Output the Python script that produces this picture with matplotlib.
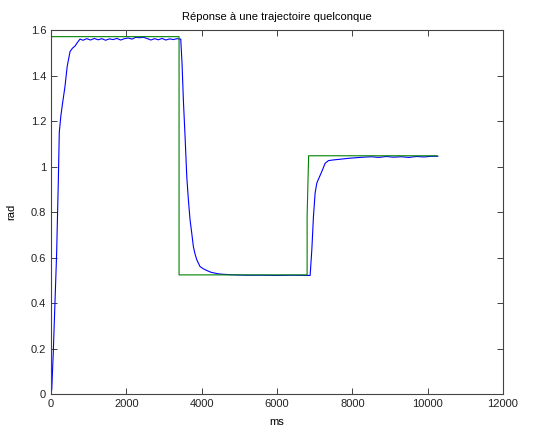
#!/usr/bin/env python3

import matplotlib
matplotlib.use("Agg")
import matplotlib.pyplot as plt

# mesure (bleu)
t_mes = [0, 20, 60, 105, 150, 195, 220, 260, 300, 370, 430, 505, 570, 640, 700, 770,
         850, 950, 1050, 1150, 1250, 1350, 1450, 1550, 1650, 1750, 1850, 1950, 2050,
         2150, 2250, 2350, 2450, 2550, 2650, 2750, 2850, 2950, 3050, 3150, 3250, 3350, 3420,
         3445, 3480, 3515, 3560, 3605, 3648, 3692, 3737, 3780, 3825, 3870, 3958, 4050,
         4135, 4250, 4445, 4600, 4800, 5000, 5200, 5600, 6000, 6400, 6880,
         6925, 6968, 7012, 7057, 7100, 7190, 7278, 7367, 7500, 7677, 7900, 8120, 8300,
         8500, 8700, 8900, 9100, 9300, 9500, 9700, 9900, 10100, 10270]
y_mes = [0, 0.02, 0.18, 0.40, 0.62, 0.94, 1.15, 1.22, 1.27, 1.35, 1.44, 1.505, 1.52, 1.53, 1.545, 1.56,
         1.555, 1.562, 1.556, 1.563, 1.557, 1.562, 1.555, 1.561, 1.558, 1.563, 1.556, 1.562, 1.565,
         1.560, 1.568, 1.566, 1.568, 1.563, 1.556, 1.562, 1.557, 1.563, 1.556, 1.561, 1.558, 1.562, 1.560,
         1.56, 1.45, 1.29, 1.13, 0.955, 0.853, 0.765, 0.707, 0.648, 0.615, 0.59, 0.56, 0.55,
         0.543, 0.535, 0.528, 0.526, 0.524, 0.523, 0.522, 0.522, 0.521, 0.522, 0.521,
         0.634, 0.78, 0.883, 0.927, 0.944, 0.978, 1.014, 1.026, 1.029, 1.032, 1.036, 1.039, 1.041,
         1.043, 1.040, 1.044, 1.041, 1.043, 1.040, 1.044, 1.042, 1.045, 1.045]

# consigne (vert)
t_ref = [0, 3400, 3400, 6800, 6800, 6840, 10250]
y_ref = [1.5708, 1.5708, 0.5236, 0.5236, 0.783, 1.0472, 1.0472]

plt.rcParams["font.family"] = ["Liberation Sans", "DejaVu Sans"]
plt.rcParams["font.size"] = 8

fig = plt.figure(figsize=(5.34, 4.30), dpi=100)
ax = fig.add_axes([0.0955, 0.0837, 0.8464, 0.8465])

ax.plot(t_mes, y_mes, color=(0, 0, 1), lw=0.8)
ax.plot(t_ref, y_ref, color=(0, 0.5, 0), lw=0.8)

ax.set_xlim(0, 12000)
ax.set_ylim(0, 1.6)
ax.set_xticks(range(0, 12001, 2000))
ax.set_yticks([0, 0.2, 0.4, 0.6, 0.8, 1, 1.2, 1.4, 1.6])
ax.set_yticklabels(["0", "0.2", "0.4", "0.6", "0.8", "1", "1.2", "1.4", "1.6"])
ax.tick_params(direction="in", length=4, width=0.6, top=True, right=True, colors="#222222")
for s in ax.spines.values():
    s.set_linewidth(0.8)
    s.set_color("#444444")

ax.set_title("Réponse à une trajectoire quelconque", fontsize=8, pad=7)
ax.set_xlabel("ms", labelpad=6)
ax.set_ylabel("rad", labelpad=10)

fig.savefig("out.png", dpi=100)
